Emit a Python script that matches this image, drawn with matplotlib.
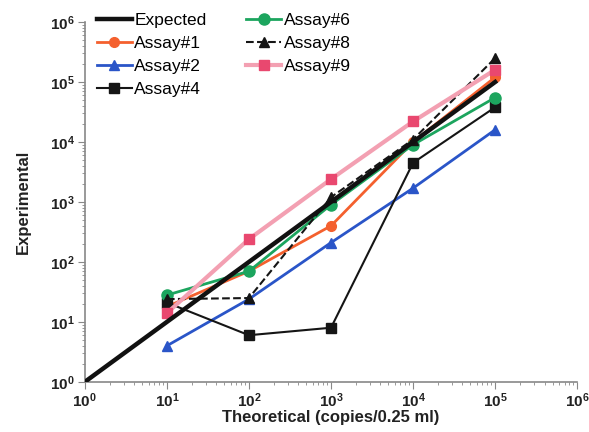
import numpy as np
import matplotlib.pyplot as plt
from matplotlib.ticker import LogLocator, NullFormatter

plt.rcParams['font.family'] = ['Liberation Sans', 'DejaVu Sans']

theo = [10, 100, 1000, 10000, 100000]
expected_x = [1, 100000]
expected_y = [1, 100000]

assay1 = [18, 70, 400, 10000, 120000]
assay2 = [4, 24, 210, 1700, 16000]
assay4 = [21, 6, 8, 4500, 38000]
assay6 = [28, 70, 900, 9000, 55000]
assay8 = [24, 25, 1200, 11000, 250000]
assay9 = [14, 240, 2400, 22000, 160000]

fig = plt.figure(figsize=(5.89, 4.32), dpi=100)
ax = fig.add_axes([0.144, 0.116, 0.836, 0.833])

ax.plot(expected_x, expected_y, color='#111111', lw=3.2, label='Expected', zorder=5)
ax.plot(theo, assay1, color='#f4602e', lw=2, marker='o', ms=7, label='Assay#1')
ax.plot(theo, assay2, color='#2a55c8', lw=2, marker='^', ms=7, label='Assay#2')
ax.plot(theo, assay4, color='#151515', lw=1.5, marker='s', ms=7, label='Assay#4')
ax.plot(theo, assay6, color='#1ca55e', lw=2, marker='o', ms=8, label='Assay#6')
ax.plot(theo, assay8, color='#151515', lw=1.5, ls='--', marker='^', ms=7, label='Assay#8')
ax.plot(theo, assay9, color='#f3a0b2', lw=3, marker='s', ms=7, mfc='#e9486f', mec='#e9486f',
        label='Assay#9')

ax.set_xscale('log')
ax.set_yscale('log')
ax.set_xlim(1, 1e6)
ax.set_ylim(1, 1e6)

for a in (ax.xaxis, ax.yaxis):
    a.set_major_locator(LogLocator(base=10, numticks=10))
    a.set_minor_locator(LogLocator(base=10, subs=np.arange(2, 10), numticks=10))
    a.set_minor_formatter(NullFormatter())

for s in ['top', 'right']:
    ax.spines[s].set_visible(False)
for s in ['left', 'bottom']:
    ax.spines[s].set_color('#888888')
    ax.spines[s].set_linewidth(1.2)
ax.tick_params(which='both', direction='out', color='#888888')
ax.tick_params(which='major', length=5, labelsize=11, pad=2)
ax.tick_params(which='minor', length=2.5)
for lab in ax.get_xticklabels() + ax.get_yticklabels():
    lab.set_fontweight('bold')
    lab.set_color('#222222')

ax.set_xlabel('Theoretical (copies/0.25 ml)', fontsize=12, fontweight='bold', color='#222222',
              labelpad=0)
ax.set_ylabel('Experimental', fontsize=12, fontweight='bold', color='#222222', labelpad=14)

leg = ax.legend(ncol=2, loc='upper left', bbox_to_anchor=(0.0, 1.06), frameon=False,
                fontsize=12.5, handlelength=2.0, handletextpad=0.15, columnspacing=2.3,
                labelspacing=0.45, borderaxespad=0.3)

fig.savefig('out.png', dpi=100)
